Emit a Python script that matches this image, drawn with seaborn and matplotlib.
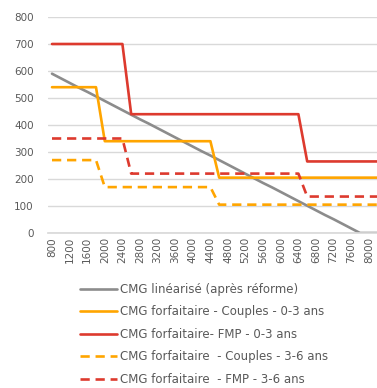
import matplotlib
matplotlib.use("Agg")
import matplotlib.pyplot as plt
import seaborn as sns
import numpy as np
from matplotlib.lines import Line2D

sns.set_theme(style="white")
plt.rcParams['font.family'] = ['DejaVu Sans']

# Revenus (categories every 200 ; labels every 400)
revenus = list(range(800, 8201, 200))
tick_labels = [str(v) for v in range(800, 8001, 400)]

cmg_lineaire = [590, 573, 556, 539, 523, 506, 489, 472, 455, 438, 421, 405, 388,
                371, 354, 337, 320, 303, 287, 270, 253, 236, 219, 202, 185, 169,
                152, 135, 118, 101, 84, 67, 51, 34, 17, 0, 0, 0]
couples_03 = [540]*6 + [340]*13 + [205]*19
fmp_03 = [700]*9 + [440]*20 + [265]*9
couples_36 = [270]*6 + [170]*13 + [105]*19
fmp_36 = [350]*9 + [220]*20 + [135]*9

labels = ["CMG linéarisé (après réforme)",
          "CMG forfaitaire - Couples - 0-3 ans",
          "CMG forfaitaire- FMP - 0-3 ans",
          "CMG forfaitaire  - Couples - 3-6 ans",
          "CMG forfaitaire  - FMP - 3-6 ans"]

GRAY = "#8c8c8c"
ORANGE = "#FFA500"
RED = "#DD3A2E"
TXT = "#595959"

fig = plt.figure(figsize=(3.77, 3.88), dpi=100)
W, H = 377, 388
x0 = 47.6
ax = fig.add_axes([x0 / W, 1 - 233 / H, 38 * 8.8 / W, 216 / H])

idx = np.arange(len(revenus))
series = [(cmg_lineaire, GRAY, "-"), (couples_03, ORANGE, "-"), (fmp_03, RED, "-"),
          (couples_36, ORANGE, "--"), (fmp_36, RED, "--")]
handles = []
lw = 1.9
for (vals, col, ls), lab in zip(series, labels):
    sns.lineplot(x=idx, y=vals, ax=ax, color=col, linewidth=lw, legend=False)
    line = ax.lines[-1]
    if ls == "--":
        line.set_dashes((3.5, 2.2))
    h = Line2D([], [], color=col, linewidth=lw)
    if ls == "--":
        h.set_dashes((3.5, 2.2))
    handles.append(h)

ax.set_xlim(-0.5, len(revenus) - 0.5)
ax.set_ylim(0, 800)
ax.set_yticks(range(0, 801, 100))
ax.set_xticks(idx[::2])
ax.set_xticklabels(tick_labels, rotation=90)
ax.tick_params(axis='both', colors=TXT, labelsize=7.5, length=0, pad=3)
ax.tick_params(axis='y', pad=10)
ax.grid(axis='y', color="#d9d9d9", linewidth=1)
ax.set_axisbelow(True)
for s in ["top", "right", "left"]:
    ax.spines[s].set_visible(False)
ax.spines["bottom"].set_color("#d9d9d9")
ax.set_xlabel("")
ax.set_ylabel("")

leg = fig.legend(handles, labels, loc="upper left", bbox_to_anchor=(80 / W, 1 - 283 / H),
                 frameon=False, fontsize=8.5, labelcolor=TXT, handlelength=3.1,
                 handletextpad=0.25, labelspacing=0.8, borderaxespad=0, borderpad=0)

fig.savefig("out.png", dpi=100)
